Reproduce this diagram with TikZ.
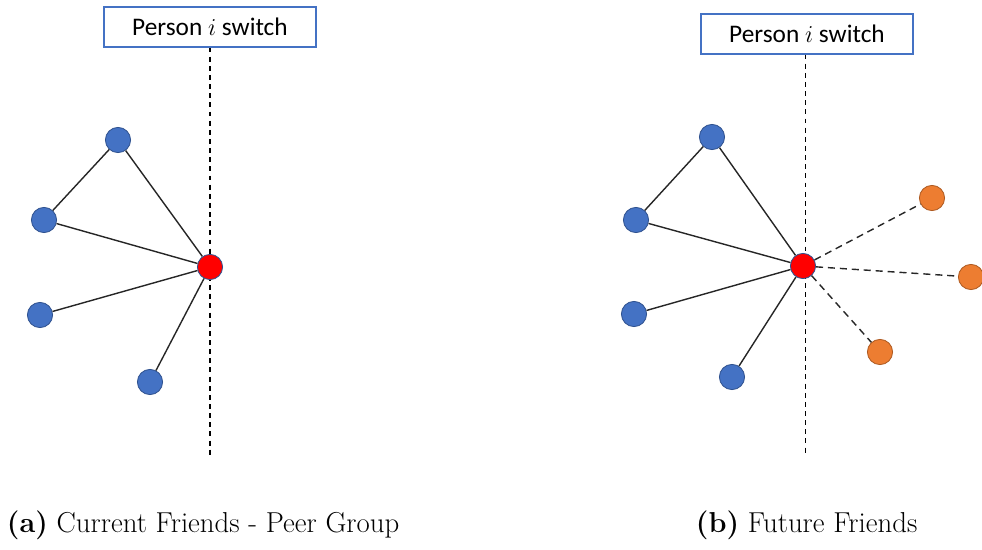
\documentclass[tikz,border=0pt]{standalone}
\usepackage{fontspec}
\usepackage{xcolor}
\newfontfamily\boxfont{Carlito}
\usetikzlibrary{positioning}
\definecolor{friendcolor}{HTML}{4472C4}
\definecolor{friendline}{HTML}{2F528F}
\definecolor{futurecolor}{HTML}{ED7D31}
\definecolor{futureline}{HTML}{AE5A21}

\tikzset{
  friend/.style={circle, fill=friendcolor, draw=friendline, line width=0.6pt, minimum size=0.63cm, inner sep=0pt},
  self/.style={friend, fill=red},
  future/.style={friend, fill=futurecolor, draw=futureline},
  switchbox/.style={draw=friendcolor, line width=0.8pt, fill=white, minimum width=5.3cm, minimum height=1cm, font=\boxfont\fontsize{18}{20}\selectfont},
  tie/.style={line width=1pt, black!85},
  newtie/.style={tie, dashed, dash pattern=on 5pt off 3.5pt},
  divide/.style={line width=1.1pt, dashed, dash pattern=on 3.5pt off 3pt},
  caption/.style={anchor=west, font=\fontsize{20.5}{22}\selectfont}
}

\begin{document}
\begin{tikzpicture}[x=0.025cm, y=-0.025cm]
        \useasboundingbox (0,0) rectangle (982,550);

        % (a) current friends
        \node[switchbox] (boxA) at (210,27) {Person $i$ switch};
        \coordinate (endA) at (210,455);
        \draw[divide] (boxA) -- (endA);

        \node[self] (iA) at (210,267) {};
        \node[friend] (a1) at (118,140) {};
        \node[friend] (a2) at (44,220) {};
        \node[friend] (a3) at (40,315) {};
        \node[friend] (a4) at (150,382) {};

        \draw[tie] (a1) -- (a2);
        \draw[tie] (a1) -- (iA);
        \draw[tie] (a2) -- (iA);
        \draw[tie] (a3) -- (iA);
        \draw[tie] (a4) -- (iA);

        % (b) future friends
        \node[switchbox] (boxB) at (807,34) {Person $i$ switch};
        \coordinate (endB) at (805.4,455);
        \draw[divide] (boxB.south -| endB) -- (endB);

        \node[self] (iB) at (803,266) {};
        \node[friend] (b1) at (712,137) {};
        \node[friend] (b2) at (636,220) {};
        \node[friend] (b3) at (634,314) {};
        \node[friend] (b4) at (732,377) {};
        \node[future] (f1) at (932,198) {};
        \node[future] (f2) at (971,277) {};
        \node[future] (f3) at (880,352) {};

        \draw[tie] (b1) -- (b2);
        \draw[tie] (b1) -- (iB);
        \draw[tie] (b2) -- (iB);
        \draw[tie] (b3) -- (iB);
        \draw[tie] (b4) -- (iB);
        \draw[newtie] (iB) -- (f1);
        \draw[newtie] (iB) -- (f2);
        \draw[newtie] (iB) -- (f3);

        \node[caption] (capA) at (2,525) {\textbf{(a)} Current Friends - Peer Group};
        \node[caption] (capB) at (691,525) {\textbf{(b)} Future Friends};
      \end{tikzpicture}
\end{document}
